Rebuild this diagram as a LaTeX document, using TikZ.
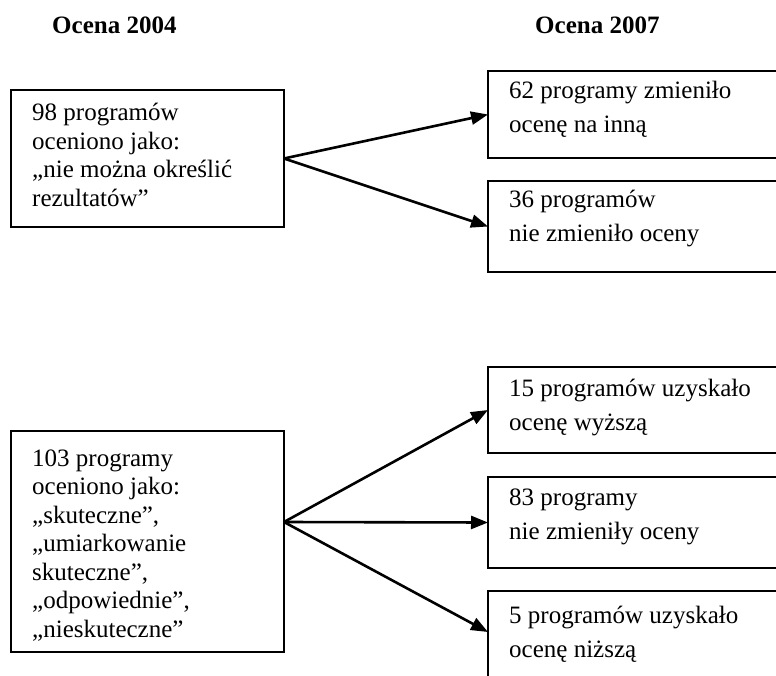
\documentclass[tikz,border=0pt]{standalone}
\usepackage{fontspec}
\setmainfont{Liberation Serif}
\usetikzlibrary{arrows.meta,calc}
\tikzset{
  box/.style={draw, line width=1.8pt, inner sep=0pt, outer sep=0pt, anchor=north west},
  ltxt/.style={anchor=base west, inner sep=0pt, font=\fontsize{25}{28.5}\selectfont},
  rtxt/.style={anchor=base west, inner sep=0pt, font=\fontsize{25}{34}\selectfont},
  title/.style={anchor=base west, inner sep=0pt, font=\bfseries\fontsize{25}{30}\selectfont},
  arr/.style={line width=2.6pt, -{Triangle[length=17pt,width=13pt]}}
}
\begin{document}
\begin{tikzpicture}[x=1pt,y=-1pt]
\useasboundingbox (0,0) rectangle (776,676);
\fill[white] (0,0) rectangle (776,676);
\clip (0,0) rectangle (776,676);

% titles
\node[title] (h1) at (52,34) {Ocena 2004};
\node[title] (h2) at (535,34) {Ocena 2007};

% left boxes
\node[box, minimum width=273pt, minimum height=137pt] (L1) at (11,90) {};
\node[ltxt] (tL1) at (32,121) {\parbox[t]{250pt}{\raggedright 98 programów\\oceniono jako:\\„nie można określić\\rezultatów”}};

\node[box, minimum width=273pt, minimum height=221pt] (L2) at (11,431) {};
\node[ltxt] (tL2) at (32,466) {\parbox[t]{250pt}{\raggedright 103 programy\\oceniono jako:\\„skuteczne”,\\„umiarkowanie\\skuteczne”,\\„odpowiednie”,\\„nieskuteczne”}};

% right boxes
\node[box, minimum width=320pt, minimum height=87pt] (A) at (488,71) {};
\node[rtxt] (tA) at (509,99) {\parbox[t]{260pt}{\raggedright 62 programy zmieniło\\ocenę na inną}};

\node[box, minimum width=320pt, minimum height=91pt] (B) at (488,181) {};
\node[rtxt] (tB) at (509,208) {\parbox[t]{260pt}{\raggedright 36 programów\\nie zmieniło oceny}};

\node[box, minimum width=320pt, minimum height=86pt] (C) at (488,367) {};
\node[rtxt] (tC) at (509,396) {\parbox[t]{260pt}{\raggedright 15 programów uzyskało\\ocenę wyższą}};

\node[box, minimum width=320pt, minimum height=91pt] (D) at (488,477) {};
\node[rtxt] (tD) at (509,505) {\parbox[t]{260pt}{\raggedright 83 programy\\nie zmieniły oceny}};

\node[box, minimum width=320pt, minimum height=120pt] (E) at (488,591) {};
\node[rtxt] (tE) at (509,623) {\parbox[t]{260pt}{\raggedright 5 programów uzyskało\\ocenę niższą}};

% connector anchors
\coordinate (o1) at (L1.east);
\coordinate (o2) at ($(L2.north east)+(0,91)$);
\coordinate (eE) at ($(E.north west)+(0,41)$);

% arrows
\draw[arr] (o1) -- (A.west);
\draw[arr] (o1) -- (B.west);
\draw[arr] (o2) -- (C.west);
\draw[arr] (o2) -- (D.west);
\draw[arr] (o2) -- (eE);
\end{tikzpicture}
\end{document}
